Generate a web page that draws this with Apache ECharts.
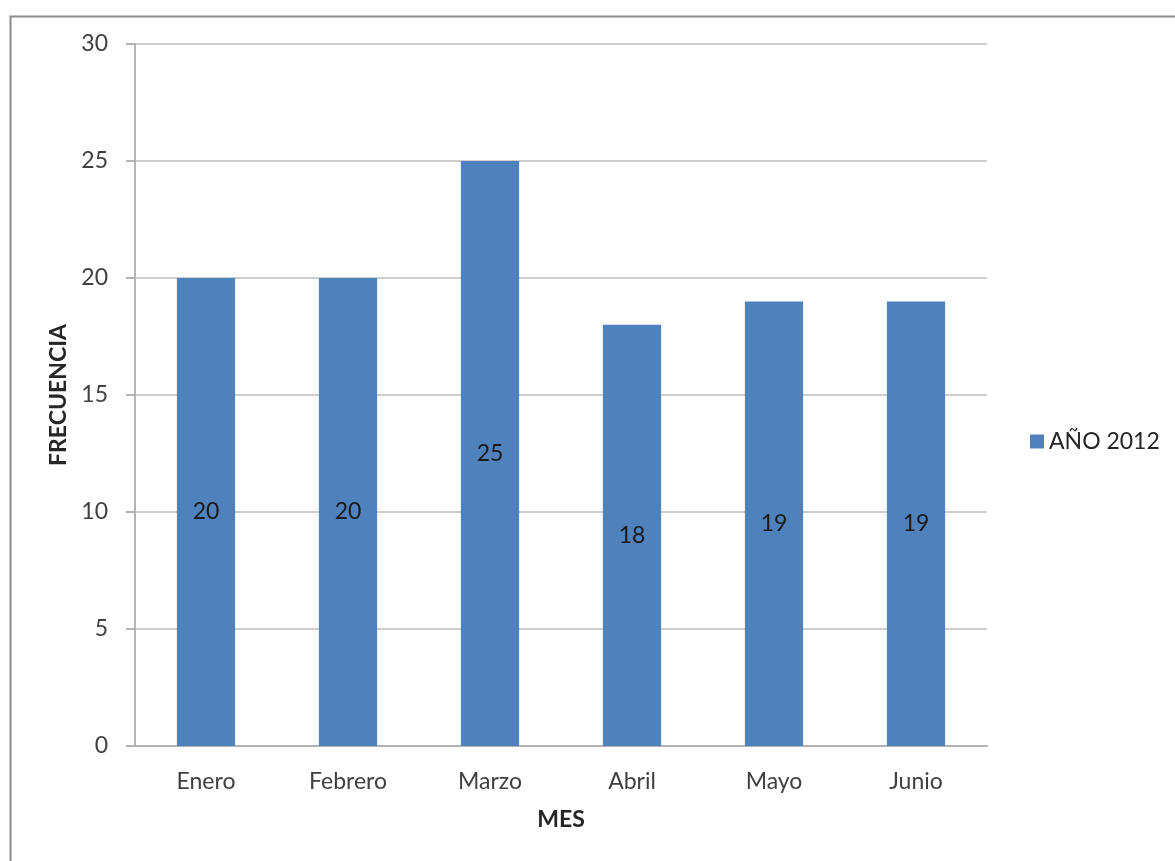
<!DOCTYPE html>
<html>
<head>
<meta charset="utf-8">
<script src="https://cdn.jsdelivr.net/npm/echarts@6/dist/echarts.min.js"></script>
<style>
  html, body { margin: 0; padding: 0; background: #fff; }
  #chart { width: 1175px; height: 861px; }
</style>
</head>
<body>
<div id="chart"></div>
<script>
// Monthly frequency, first half of 2012
const months = ['Enero', 'Febrero', 'Marzo', 'Abril', 'Mayo', 'Junio'];
const frecuencia2012 = [20, 20, 25, 18, 19, 19];
const seriesName = 'AÑO 2012';
const yTicks = { min: 0, max: 30, interval: 5 };

const FONT = 'Lato, "Liberation Sans", sans-serif';
const FS = 23;

const chart = echarts.init(document.getElementById('chart'), null, { renderer: 'canvas' });

chart.setOption({
  backgroundColor: '#ffffff',
  animation: false,
  graphic: [{
    type: 'rect',
    left: 8, top: 14,
    shape: { x: 0, y: 0, width: 1250, height: 900 },
    style: { fill: 'none', stroke: '#8c8c8c', lineWidth: 2 },
    silent: true
  }],
  grid: { left: 135, right: 188, top: 44, bottom: 115, containLabel: false },
  legend: {
    left: 1025, top: 425,
    itemWidth: 14, itemHeight: 14, itemGap: 6,
    icon: 'rect',
    textStyle: { fontFamily: FONT, fontSize: FS, color: '#262626' },
    data: [seriesName]
  },
  xAxis: {
    type: 'category',
    data: months,
    name: 'MES',
    nameLocation: 'middle',
    nameGap: 62,
    nameTextStyle: { fontFamily: FONT, fontSize: FS, fontWeight: 'bold', color: '#262626' },
    axisLine: { lineStyle: { color: '#b3b3b3', width: 2 } },
    axisTick: { show: false },
    axisLabel: { margin: 24, fontFamily: FONT, fontSize: FS, color: '#404040' }
  },
  yAxis: {
    type: 'value',
    min: yTicks.min, max: yTicks.max, interval: yTicks.interval,
    name: 'FRECUENCIA',
    nameLocation: 'middle',
    nameGap: 63,
    nameRotate: 90,
    nameTextStyle: { fontFamily: FONT, fontSize: FS, fontWeight: 'bold', color: '#262626' },
    axisLine: { show: true, lineStyle: { color: '#b3b3b3', width: 2 } },
    axisTick: { show: true, length: 9, lineStyle: { color: '#b3b3b3', width: 2 } },
    splitLine: { lineStyle: { color: '#cfcfcf', width: 2 } },
    axisLabel: { margin: 27, fontFamily: FONT, fontSize: FS, color: '#404040' }
  },
  series: [{
    name: seriesName,
    type: 'bar',
    data: frecuencia2012,
    barWidth: '41%',
    itemStyle: { color: '#4f81bd' },
    label: {
      show: true,
      position: 'inside',
      fontFamily: FONT, fontSize: FS, color: '#1a1a1a'
    }
  }]
});
</script>
</body>
</html>
